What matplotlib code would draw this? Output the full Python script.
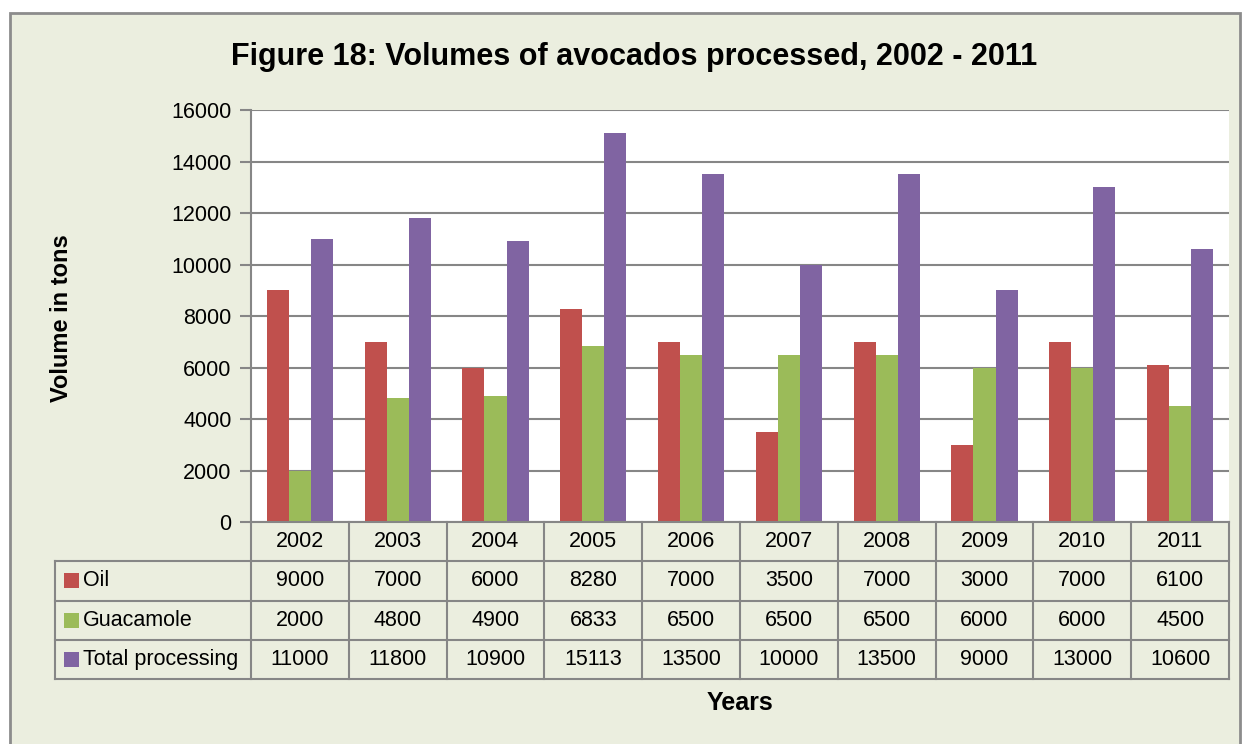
import matplotlib.pyplot as plt
from matplotlib.patches import Rectangle
from matplotlib import font_manager
import numpy as np

years = ['2002', '2003', '2004', '2005', '2006', '2007', '2008', '2009', '2010', '2011']
oil = [9000, 7000, 6000, 8280, 7000, 3500, 7000, 3000, 7000, 6100]
guacamole = [2000, 4800, 4900, 6833, 6500, 6500, 6500, 6000, 6000, 4500]
total = [11000, 11800, 10900, 15113, 13500, 10000, 13500, 9000, 13000, 10600]
series_names = ['Oil', 'Guacamole', 'Total processing']
colors = ['#C0504D', '#9BBB59', '#8064A2']

names = {f.name for f in font_manager.fontManager.ttflist}
fam = 'Liberation Sans Narrow' if 'Liberation Sans Narrow' in names else 'Liberation Sans'
plt.rcParams['font.family'] = [fam, 'DejaVu Sans']

W, H = 1247, 744
bg = '#EBEEDF'
grey = '#868686'

fig = plt.figure(figsize=(W / 100, H / 100), dpi=100)
fig.patch.set_facecolor('white')
fig.patches.append(Rectangle((10 / W, -0.01), (1240 - 10) / W, 1 - 13 / H + 0.01,
                             transform=fig.transFigure, facecolor=bg,
                             edgecolor='#8C8C8C', linewidth=2, zorder=-10))

left, right, top, bottom = 251, 1229, 110, 522
ax = fig.add_axes([left / W, 1 - bottom / H, (right - left) / W, (bottom - top) / H])
ax.set_facecolor('white')

x = np.arange(len(years))
bw = 0.225
for i, vals in enumerate([oil, guacamole, total]):
    ax.bar(x + (i - 1) * bw, vals, bw, color=colors[i], zorder=3)

ax.set_xlim(-0.5, len(years) - 0.5)
ax.set_ylim(0, 16000)
ax.set_yticks(np.arange(0, 16001, 2000))
ax.set_yticklabels([str(v) for v in range(0, 16001, 2000)], fontsize=15.5)
ax.tick_params(axis='y', length=8, width=1.5, color=grey, pad=6)
ax.set_xticks([])
ax.grid(axis='y', color=grey, linewidth=1.5, zorder=1)
for s in ['top', 'right', 'bottom']:
    ax.spines[s].set_visible(False)
ax.spines['left'].set_color(grey)
ax.spines['left'].set_linewidth(1.5)

# data table under the axis
row_h = 39.3 / (bottom - top)
col0 = (55 - left) / (right - left)
nrows = 4
trans = ax.get_xaxis_transform()
lw = 1.5
ax.plot([-0.5, len(years) - 0.5], [0, 0], color=grey, lw=lw, transform=trans, clip_on=False, zorder=5)
for r in range(1, nrows + 1):
    ax.plot([col0, 1], [-r * row_h, -r * row_h], color=grey, lw=lw,
            transform=ax.transAxes, clip_on=False)
for k in range(len(years) + 1):
    ax.plot([k - 0.5, k - 0.5], [0, -nrows * row_h], color=grey, lw=lw,
            transform=trans, clip_on=False)
ax.plot([col0, col0], [-row_h, -nrows * row_h], color=grey, lw=lw,
        transform=ax.transAxes, clip_on=False)

for k, yr in enumerate(years):
    ax.text(k, -0.5 * row_h, yr, transform=trans, ha='center', va='center', fontsize=15.5)
for r, (name, vals) in enumerate(zip(series_names, [oil, guacamole, total])):
    yc = -(r + 1.5) * row_h
    for k, v in enumerate(vals):
        ax.text(k, yc, str(v), transform=trans, ha='center', va='center', fontsize=15.5)
    sw = 15 / (right - left)
    sh = 15 / (bottom - top)
    ax.add_patch(Rectangle((col0 + 9 / (right - left), yc - sh / 2), sw, sh,
                           transform=ax.transAxes, facecolor=colors[r],
                           edgecolor='none', clip_on=False))
    ax.text(col0 + 28 / (right - left), yc, name, transform=ax.transAxes,
            ha='left', va='center', fontsize=15.5)

fig.text(634 / W, 1 - 57 / H, 'Figure 18: Volumes of avocados processed, 2002 - 2011',
         ha='center', va='center', fontsize=22, fontweight='bold')
fig.text(62 / W, 1 - 318 / H, 'Volume in tons', rotation=90, ha='center', va='center',
         fontsize=17, fontweight='bold')
fig.text(740 / W, 1 - 703 / H, 'Years', ha='center', va='center',
         fontsize=18, fontweight='bold')

fig.savefig('out.png', dpi=100, facecolor=fig.get_facecolor())
